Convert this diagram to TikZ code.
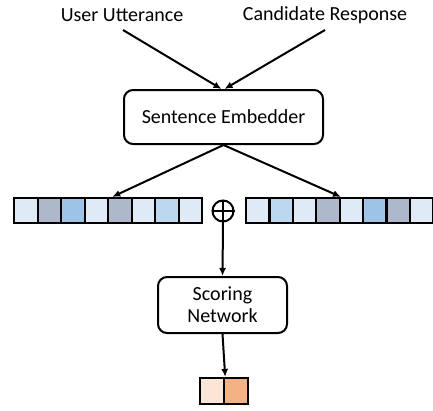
\documentclass[tikz,border=0pt]{standalone}
\usepackage{fontspec}
\setmainfont{Carlito}
\usetikzlibrary{arrows.meta}

\definecolor{pale}{HTML}{DEEBF7}
\definecolor{slate}{HTML}{ADB9CA}
\definecolor{mid}{HTML}{9DC3E6}
\definecolor{soft}{HTML}{BDD7EE}
\definecolor{peach}{HTML}{FBE5D6}
\definecolor{apricot}{HTML}{F4B183}

\tikzset{
  box/.style={draw,line width=2pt,rounded corners=9pt,align=center},
  cell/.style={draw,line width=2.2pt,minimum width=23.5pt,minimum height=25pt,inner sep=0pt,anchor=west},
  flow/.style={-{Latex[length=8pt,width=7pt]},line width=2pt}
}

\begin{document}
\begin{tikzpicture}[x=1pt,y=-1pt,font=\fontsize{20}{24}\selectfont]
   \useasboundingbox (0,0) rectangle (433,410);

   \node (utt) at (122,15) {User Utterance};
   \node (cand) at (325,15) {Candidate Response};

   \node[box,minimum width=199pt,minimum height=54pt] (emb) at (223.5,117) {Sentence Embedder};

   \draw[flow] (123,30) -- ([xshift=-2pt]emb.north);
   \draw[flow] (325,30) -- ([xshift=1pt]emb.north);

   % utterance vector
   \foreach \c [count=\i] in {pale,slate,mid,pale,slate,pale,soft,pale}
      \node[cell,fill=\c] (l\i) at (13+23.5*\i-23.5,210.5) {};
   % response vector
   \foreach \c [count=\i] in {pale,soft,pale,slate,pale,mid,slate,pale}
      \node[cell,fill=\c] (r\i) at (245+23.4*\i-23.4,210.5) {};

   \draw[flow] (emb.south) -- ([xshift=3pt]l4.north east);
   \draw[flow] (emb.south) -- (r4.north east);

   \node[draw,circle,line width=2pt,minimum size=21pt,inner sep=0pt] (plus) at (223,211) {};
   \draw[line width=2pt] (plus.north) -- (plus.south);
   \draw[line width=2pt] (plus.west) -- (plus.east);

   \node[box,minimum width=129pt,minimum height=56pt,font=\fontsize{20}{22}\selectfont] (score) at (222.5,305) {Scoring\\Network};

   \draw[flow] (plus.south) -- (score.north);

   \node[cell,fill=peach,minimum width=24pt,minimum height=26pt] (o1) at (199,391) {};
   \node[cell,fill=apricot,minimum width=24pt,minimum height=26pt] (o2) at (223,391) {};

   \draw[flow] (score.south) -- (o1.north east);
\end{tikzpicture}
\end{document}
